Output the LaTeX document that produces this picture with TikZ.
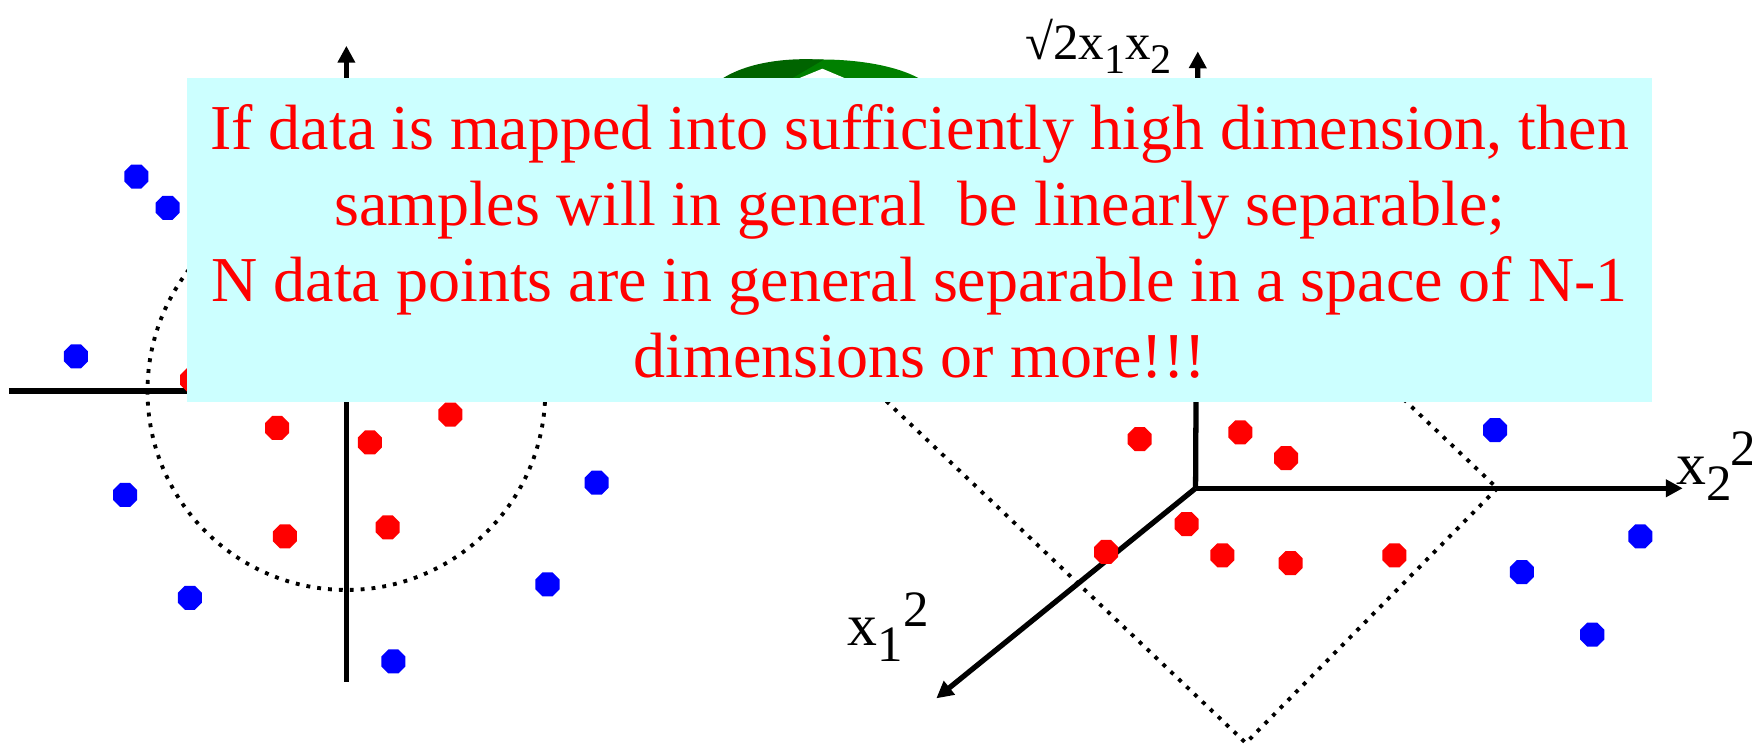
\documentclass[tikz,border=0pt]{standalone}
\usepackage{fontspec}
\setmainfont{Liberation Serif}
\usetikzlibrary{arrows.meta, shapes.geometric, positioning}
\definecolor{boxcyan}{HTML}{CCFFFF}
\definecolor{arcgreen}{HTML}{008000}
\definecolor{arcdark}{HTML}{006400}
\tikzstyle{axis}      = [line width=1.5pt,-{Triangle[length=4.8pt, width=4.8pt]}]
\tikzstyle{plainaxis} = [line width=1.5pt]
\tikzstyle{boundary}  = [line width=1.1pt, dotted]
\tikzstyle{bluedot}   = [regular polygon, regular polygon sides=8, fill=blue, minimum size=2.6mm, inner sep=0pt]
\tikzstyle{reddot}    = [regular polygon, regular polygon sides=8, fill=red, minimum size=2.6mm, inner sep=0pt]
\tikzstyle{axislabel} = [inner sep=0pt, anchor=base west, font=\fontsize{17}{17}\selectfont]
\tikzstyle{msgbox}    = [fill=boxcyan, inner sep=0pt, minimum width=14.637cm, minimum height=3.24cm]
\newcommand{\lowsub}[1]{\raisebox{-4.5pt}{\fontsize{14.5}{14.5}\selectfont #1}}
\newcommand{\highsup}[1]{\raisebox{5.4pt}{\fontsize{14.5}{14.5}\selectfont #1}}

\begin{document}
\begin{tikzpicture}[x=0.011173cm, y=-0.011173cm]

\useasboundingbox (0,0) rectangle (1568,671);

% left plot
\coordinate (LO) at (310,350);
\coordinate (LB) at (310,610);
\coordinate (LT) at (310,41);
\coordinate (LL) at (8,350);
\coordinate (LR) at (640,350);

\draw[boundary] (LO) circle (178);
\draw[axis] (LB) -- (LT);
\draw[plainaxis] (LL) -- (LR);

\node[bluedot] (LB1) at (122,158) {};
\node[bluedot] (LB2) at (150,186) {};
\node[bluedot] (LB3) at (68,319) {};
\node[bluedot] (LB4) at (112,443) {};
\node[bluedot] (LB5) at (170,535) {};
\node[bluedot] (LB6) at (352,592) {};
\node[bluedot] (LB7) at (490,523) {};
\node[bluedot] (LB8) at (534,432) {};

\node[reddot] (LR1) at (248,383) {};
\node[reddot] (LR2) at (331,396) {};
\node[reddot] (LR3) at (403,371) {};
\node[reddot] (LR4) at (255,480) {};
\node[reddot] (LR5) at (347,472) {};
\node[reddot] (LR6) at (172,340) {};

% right plot
\coordinate (RO) at (1070,437);
\coordinate (RZ) at (1072,46);
\coordinate (RY) at (1506,437);
\coordinate (RX) at (838,625);

\coordinate (DR) at (1340,437);
\coordinate (DB) at (1115,665);
\coordinate (DL) at (768,335);
\coordinate (DT) at (993,107);

\draw[boundary] (DR) -- (DB) -- (DL) -- (DT) -- cycle;

\draw[axis] (RO) -- (RZ);
\draw[axis] (RO) -- (RY);
\draw[axis] (RO) -- (RX);

\node[reddot] (RR1) at (1020,393) {};
\node[reddot] (RR2) at (1110,387) {};
\node[reddot] (RR3) at (1151,410) {};
\node[reddot] (RR4) at (1062,469) {};
\node[reddot] (RR5) at (1094,497) {};
\node[reddot] (RR6) at (1155,504) {};
\node[reddot] (RR7) at (1248,497) {};
\node[reddot] (RR8) at (990,494) {};

\node[bluedot] (RB1) at (1338,385) {};
\node[bluedot] (RB2) at (1468,480) {};
\node[bluedot] (RB3) at (1362,512) {};
\node[bluedot] (RB4) at (1425,568) {};

% mapping arrow, mostly behind the box
\fill[arcgreen] (640,75) .. controls (678,46) and (792,46) .. (830,75) -- cycle;
\fill[arcdark] (640,75) .. controls (662,57) and (700,51) .. (737,53.5) -- (709,70) -- (680,75) -- cycle;
\fill[white] (703,75) -- (736,61.5) -- (768,75) -- cycle;

% message
\node[msgbox] (msg) at (823,215) {};
\node[text=red, align=center, font=\fontsize{18.2}{21.6}\selectfont] (msgtext) at (823,216)
  {If data is mapped into sufficiently high dimension, then\\
   samples will in general~ be linearly separable;\\
   N data points are in general separable in a space of N-1\\
   dimensions or more!!!};

% axis labels
\node[axislabel, font=\fontsize{14.5}{14.5}\selectfont] (zlab) at (917,53)
  {√2x\raisebox{-4pt}{\fontsize{12}{12}\selectfont 1}x\raisebox{-4pt}{\fontsize{12}{12}\selectfont 2}};
\node[axislabel] (xlab) at (758,578) {x\lowsub{1}\highsup{2}};
\node[axislabel] (ylab) at (1500,434) {x\lowsub{2}\kern-0.5pt\highsup{2}};

\end{tikzpicture}
\end{document}
